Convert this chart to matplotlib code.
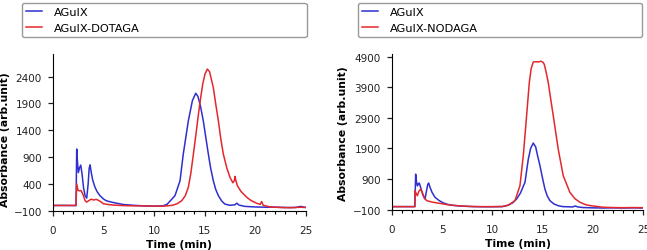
import matplotlib
matplotlib.use("Agg")
import matplotlib.pyplot as plt
from matplotlib.ticker import MultipleLocator

# --- left panel: AGuIX vs AGuIX-DOTAGA ---
t_agx_l = [0, 1, 2.0, 2.3, 2.37, 2.45, 2.53, 2.65, 2.77, 2.9, 3.05, 3.2, 3.36, 3.5, 3.6,
           3.69, 3.8, 3.95, 4.18, 4.4, 4.67, 5.0, 5.3, 5.8, 6.3, 7, 8, 9, 10, 10.9, 11.3,
           11.6, 12.08, 12.58, 12.9, 13.4, 13.8, 14.13, 14.35, 14.6, 14.88, 15.1, 15.38,
           15.6, 15.87, 16.1, 16.37, 16.7, 17.0, 17.5, 18.0, 18.2, 18.4, 19, 20, 21, 22,
           23, 24, 24.5, 25]
v_agx_l = [-5, 0, -5, -5, 1050, 800, 610, 700, 750, 580, 320, 180, 135, 400, 690,
           755, 620, 470, 335, 250, 180, 120, 85, 60, 40, 15, 0, -10, -15, -10, 20,
           80, 180, 458, 955, 1575, 1950, 2090, 2030, 1850, 1575, 1300, 955,
           700, 458, 300, 180, 80, 25, 0, 10, 40, 5, -20, -30, -35, -35,
           -40, -40, -20, -40]

t_dotaga = [0, 1, 2.3, 2.37, 2.5, 2.65, 2.8, 3.0, 3.19, 3.35, 3.5, 3.8, 4.0, 4.3, 4.5,
            4.8, 5.0, 5.5, 6, 7, 8, 9, 10, 11, 11.8, 12.3, 12.75, 13.1, 13.4, 13.65,
            13.9, 14.15, 14.4, 14.6, 14.82, 15.05, 15.28, 15.5, 15.87, 16.1, 16.37,
            16.6, 16.86, 17.2, 17.52, 17.8, 17.95, 18.02, 18.1, 18.25, 18.6, 19.17,
            19.6, 20.16, 20.5, 20.65, 20.8, 21.5, 22.5, 23.5, 24.5, 25]
v_dotaga = [0, -5, 0, 400, 280, 270, 275, 200, 90, 60, 80, 115, 100, 110, 95,
            60, 30, 15, 5, -5, -10, -10, -15, -15, 0, 30, 86, 180, 335, 600,
            955, 1320, 1700, 1980, 2257, 2450, 2540, 2490, 2195, 1900, 1575,
            1250, 955, 700, 520, 420, 460, 540, 460, 365, 260, 150,
            90, 38, 20, 70, 0, -30, -40, -45, -35, -40]

# --- right panel: AGuIX vs AGuIX-NODAGA ---
t_agx_r = [0, 1, 2.3, 2.38, 2.47, 2.55, 2.65, 2.74, 2.9, 3.1, 3.31, 3.45, 3.58, 3.67,
           3.8, 4.0, 4.3, 4.7, 5.13, 5.6, 6.1, 7, 8, 9, 10, 11, 11.5, 12, 12.41, 12.8,
           13.24, 13.57, 13.8, 14.06, 14.3, 14.5, 14.73, 15.0, 15.22, 15.45, 15.72,
           16.1, 16.54, 17, 18, 18.2, 18.5, 19, 20, 21, 22, 23, 24, 25]
v_agx_r = [0, 0, 0, 1060, 800, 680, 740, 770, 600, 380, 250, 500, 720, 770,
           640, 470, 305, 200, 120, 70, 40, 15, 0, -5, -5, 0, 40, 120, 250, 450,
           795, 1550, 1900, 2075, 1950, 1650, 1335, 900, 575, 350, 195,
           90, 30, 0, -10, 20, -10, -30, -40, -45, -40, -45, -40, -45]

t_nodaga = [0, 1, 2.3, 2.31, 2.45, 2.55, 2.7, 2.88, 3.05, 3.25, 3.48, 4.0, 4.5, 5.0,
            5.5, 6.0, 7, 8, 9, 10, 11, 11.6, 12.24, 12.74, 13.07, 13.4, 13.67, 13.85,
            14.06, 14.3, 14.6, 14.8, 15.0, 15.15, 15.3, 15.55, 15.8, 16.05, 16.54,
            17.04, 17.7, 18.2, 18.7, 19.3, 19.8, 20.5, 21, 22, 23, 24, 25]
v_nodaga = [0, 0, 0, 520, 420, 356, 500, 575, 450, 280, 195, 150, 120, 95,
            65, 45, 20, 5, 0, 0, 5, 50, 193, 682, 1660, 2964, 4053, 4500,
            4720, 4730, 4725, 4745, 4720, 4650, 4450, 4053, 3500, 2964, 1879,
            1008, 467, 260, 141, 60, 30, 0, -20, -30, -35, -30, -35]

blue = "#2f2fd0"
red = "#e3282c"

fig = plt.figure(figsize=(6.47, 2.51), dpi=100)
ax1 = fig.add_axes([0.0815, 0.1566, 0.391, 0.624])
ax2 = fig.add_axes([0.6054, 0.1606, 0.389, 0.62])

panels = [
    (ax1, t_agx_l, v_agx_l, t_dotaga, v_dotaga, "AGuIX-DOTAGA",
     [-100, 400, 900, 1400, 1900, 2400], 2820, 0.034, (-0.168, 0.46)),
    (ax2, t_agx_r, v_agx_r, t_nodaga, v_nodaga, "AGuIX-NODAGA",
     [-100, 900, 1900, 2900, 3900, 4900], 4980, 0.553, (-0.175, 0.496)),
]

for ax, tb, vb, tr, vr, name, yt, ytop, lx, ylab_pos in panels:
    lb, = ax.plot(tb, vb, color=blue, lw=1.1, label="AGuIX")
    lr, = ax.plot(tr, vr, color=red, lw=1.1, label=name)
    ax.set_xlim(0, 25)
    ax.set_ylim(-100, ytop)
    ax.set_yticks(yt)
    ax.xaxis.set_major_locator(MultipleLocator(5))
    ax.xaxis.set_minor_locator(MultipleLocator(1))
    for s in ["top", "right"]:
        ax.spines[s].set_visible(False)
    ax.tick_params(labelsize=7.5, colors="#222222", length=3.5, width=0.9)
    ax.tick_params(axis="x", pad=6.5)
    ax.tick_params(axis="y", pad=4.3)
    ax.tick_params(which="minor", length=2, width=0.8)
    ax.set_xlabel("Time (min)", fontsize=7.8, fontweight="bold", labelpad=3)
    ax.set_ylabel("Absorbance (arb.unit)", fontsize=7.8, fontweight="bold")
    ax.yaxis.set_label_coords(*ylab_pos)
    ax.legend(handles=[lb, lr], bbox_to_anchor=(lx, 0.984, 0.44, 0.0),
              bbox_transform=fig.transFigure, loc="upper left", mode="expand",
              borderaxespad=0, fontsize=8.2, handlelength=1.4, handletextpad=1.05,
              labelspacing=0.55, borderpad=0.35, edgecolor="#999999", framealpha=1)

fig.savefig("out.png", dpi=100)
